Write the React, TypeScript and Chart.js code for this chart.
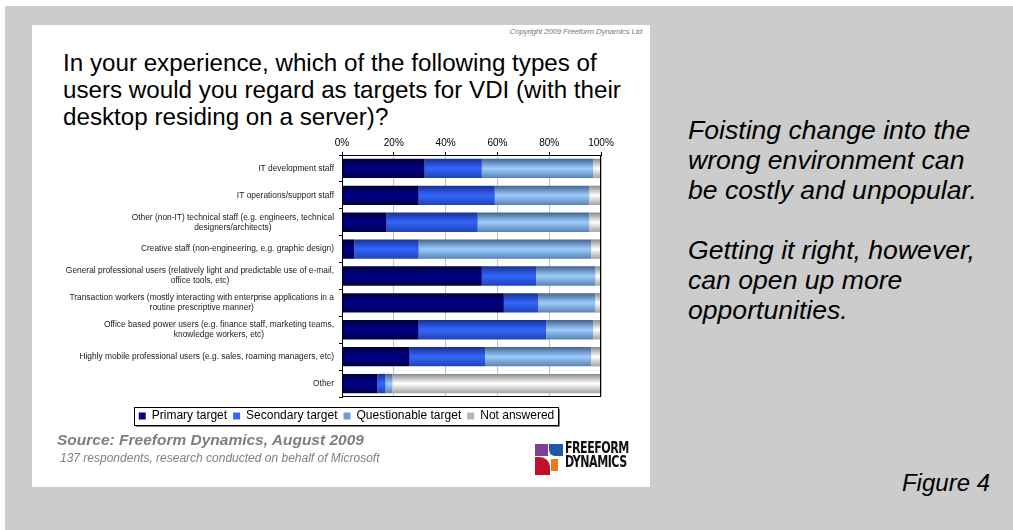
import React, { useEffect, useRef } from 'react';
import { Chart, registerables } from 'chart.js';

Chart.register(...registerables);

const FONT = '"Liberation Sans", Arial, Helvetica, sans-serif';

const categories: string[][] = [
  ['IT development staff'],
  ['IT operations/support staff'],
  ['Other (non-IT) technical staff (e.g. engineers, technical', 'designers/architects)'],
  ['Creative staff (non-engineering, e.g. graphic design)'],
  ['General professional users (relatively light and predictable use of e-mail,', 'office tools, etc)'],
  ['Transaction workers (mostly interacting with enterprise applications in a', 'routine prescriptive manner)'],
  ['Office based power users (e.g. finance staff, marketing teams,', 'knowledge workers, etc)'],
  ['Highly mobile professional users (e.g. sales, roaming managers, etc)'],
  ['Other'],
];

const primaryTarget = [31.9, 29.6, 17.2, 4.8, 54.0, 62.5, 29.6, 26.1, 13.7];
const secondaryTarget = [22.1, 29.4, 35.2, 24.8, 20.9, 13.2, 49.2, 29.1, 3.1];
const questionableTarget = [43.0, 36.5, 43.1, 66.6, 22.9, 22.1, 18.2, 41.0, 2.7];
const notAnswered = [3.0, 4.5, 4.5, 3.8, 2.2, 2.2, 3.0, 3.8, 80.5];

const seriesNames = ['Primary target', 'Secondary target', 'Questionable target', 'Not answered'];
const xTickValues = [0, 20, 40, 60, 80, 100];
const xTickLabels = ['0%', '20%', '40%', '60%', '80%', '100%'];

const gradientStops: string[][] = [
  ['#00003c', '#000088', '#00004c'],
  ['#173190', '#3366ff', '#1f44b4'],
  ['#44628c', '#9ccdff', '#5a82b0'],
  ['#8a8a8a', '#ffffff', '#a2a2a2'],
];
const legendColors = ['#000080', '#3366ff', '#6f9fd8', '#b4b4b4'];

const BAR_PCT = 0.72;

function makeBg(stops: string[]) {
  return (ctx: any) => {
    const chart = ctx.chart;
    const ys = chart.scales && chart.scales.y;
    if (!ys || ctx.type !== 'data') return stops[1];
    const c = ys.getPixelForValue(ctx.dataIndex);
    const band = (ys.bottom - ys.top) / categories.length;
    const h = band * BAR_PCT;
    if (!isFinite(c) || !isFinite(h) || h <= 0) return stops[1];
    const g = chart.ctx.createLinearGradient(0, c - h / 2, 0, c + h / 2);
    g.addColorStop(0, stops[0]);
    g.addColorStop(0.5, stops[1]);
    g.addColorStop(1, stops[2]);
    return g;
  };
}

const customPlugin = {
  id: 'customDecor',
  afterDraw(chart: any) {
    const { ctx, chartArea, scales } = chart;
    ctx.save();
    // plot frame
    ctx.strokeStyle = '#000';
    ctx.lineWidth = 1;
    ctx.strokeRect(
      Math.round(chartArea.left) + 0.5,
      Math.round(chartArea.top) + 0.5,
      Math.round(chartArea.right) - Math.round(chartArea.left) - 1,
      Math.round(chartArea.bottom) - Math.round(chartArea.top) - 1
    );
    // category labels: block right-aligned, lines centred
    ctx.font = '8.4px ' + FONT;
    ctx.fillStyle = '#1a1a1a';
    ctx.textBaseline = 'middle';
    ctx.textAlign = 'center';
    const rightX = chartArea.left - 8;
    categories.forEach((lines, i) => {
      const cy = scales.y.getPixelForValue(i);
      const w = Math.max(...lines.map((l) => ctx.measureText(l).width));
      const cx = rightX - w / 2;
      const lh = 10;
      lines.forEach((l, j) => ctx.fillText(l, cx, cy + (j - (lines.length - 1) / 2) * lh));
    });
    // legend frame
    const hb = chart.legend && chart.legend.legendHitBoxes;
    if (hb && hb.length) {
      const l = Math.round(Math.min(...hb.map((h: any) => h.left)) - 5);
      const r = Math.round(Math.max(...hb.map((h: any) => h.left + h.width)) + 4);
      const t = Math.round(hb[0].top - 3);
      const hh = 18;
      ctx.strokeStyle = '#808080';
      ctx.beginPath();
      ctx.moveTo(r + 1.5, t + 2);
      ctx.lineTo(r + 1.5, t + hh + 1.5);
      ctx.lineTo(l + 2, t + hh + 1.5);
      ctx.stroke();
      ctx.strokeStyle = '#000';
      ctx.strokeRect(l + 0.5, t + 0.5, r - l, hh);
    }
    ctx.restore();
  },
};

function ChartView() {
  const ref = useRef<HTMLCanvasElement | null>(null);
  useEffect(() => {
    if (!ref.current) return;
    const seriesData = [primaryTarget, secondaryTarget, questionableTarget, notAnswered];
    const chart = new Chart(ref.current, {
      type: 'bar',
      data: {
        labels: categories.map((c) => c.join(' ')),
        datasets: seriesData.map((d, i) => ({
          label: seriesNames[i],
          data: d,
          backgroundColor: makeBg(gradientStops[i]),
          borderWidth: 0,
          barPercentage: BAR_PCT,
          categoryPercentage: 1,
        })),
      },
      options: {
        indexAxis: 'y',
        animation: false,
        responsive: false,
        maintainAspectRatio: false,
        layout: { padding: { left: 60, right: 49, top: 0, bottom: 3 } },
        scales: {
          x: {
            position: 'top',
            stacked: true,
            min: 0,
            max: 100,
            afterBuildTicks: (s: any) => {
              s.ticks = xTickValues.map((v) => ({ value: v }));
            },
            ticks: {
              callback: (_v: any, i: number) => xTickLabels[i],
              font: { size: 10, family: FONT },
              color: '#000',
              padding: 3,
              maxRotation: 0,
            },
            grid: { color: '#c0c0c0', tickColor: '#000', tickLength: 3 },
            border: { color: '#000' },
            afterFit: (s: any) => {
              s.height = 30;
            },
          },
          y: {
            stacked: true,
            ticks: { display: false },
            grid: { drawOnChartArea: false, tickLength: 3, color: '#000', offset: true },
            border: { color: '#000' },
            afterFit: (s: any) => {
              s.width = 250;
            },
          },
        },
        plugins: {
          tooltip: { enabled: false },
          legend: {
            position: 'bottom',
            title: { display: true, text: '', font: { size: 5 }, padding: { top: 1, bottom: 0 } },
            labels: {
              boxWidth: 7,
              boxHeight: 7,
              padding: 6,
              color: '#000',
              font: { size: 12, family: FONT },
              generateLabels: () =>
                seriesNames.map((name, i) => ({
                  text: name,
                  fillStyle: legendColors[i],
                  strokeStyle: legendColors[i],
                  lineWidth: 0,
                  hidden: false,
                  datasetIndex: i,
                  fontColor: '#000',
                })),
            },
          },
        },
      } as any,
      plugins: [customPlugin],
    });
    return () => chart.destroy();
  }, []);
  return <canvas ref={ref} width={618} height={310} style={{ display: 'block', width: 618, height: 310 }} />;
}

export default function App() {
  return (
    <div
      style={{
        position: 'fixed',
        left: 0,
        top: 0,
        width: 1013,
        height: 530,
        background: '#fff',
        overflow: 'hidden',
        fontFamily: FONT,
      }}
    >
      <div style={{ position: 'absolute', left: 5, top: 6, right: 0, bottom: 0, background: '#cccccc' }} />
      <div style={{ position: 'absolute', left: 32, top: 25, width: 618, height: 462, background: '#fff' }}>
        <div
          style={{
            position: 'absolute',
            right: 8,
            top: 2,
            fontSize: 8,
            lineHeight: '10px',
            fontStyle: 'italic',
            color: '#7a7a7a',
            letterSpacing: -0.2,
            whiteSpace: 'nowrap',
          }}
        >
          Copyright 2009 Freeform Dynamics Ltd
        </div>
        <div
          style={{
            position: 'absolute',
            left: 31,
            top: 24,
            fontSize: 24.2,
            lineHeight: '27px',
            color: '#000',
            whiteSpace: 'nowrap',
          }}
        >
          In your experience, which of the following types of
          <br />
          users would you regard as targets for VDI (with their
          <br />
          desktop residing on a server)?
        </div>
        <div style={{ position: 'absolute', left: 0, top: 100, width: 618, height: 310 }}>
          <ChartView />
        </div>
        <div
          style={{
            position: 'absolute',
            left: 25,
            top: 406,
            fontSize: 15.5,
            lineHeight: '18px',
            fontStyle: 'italic',
            fontWeight: 'bold',
            color: '#7f7f7f',
            whiteSpace: 'nowrap',
          }}
        >
          Source: Freeform Dynamics, August 2009
        </div>
        <div
          style={{
            position: 'absolute',
            left: 28,
            top: 426,
            fontSize: 12,
            lineHeight: '14px',
            fontStyle: 'italic',
            color: '#7f7f7f',
            whiteSpace: 'nowrap',
          }}
        >
          137 respondents, research conducted on behalf of Microsoft
        </div>
        <div style={{ position: 'absolute', left: 503, top: 419, width: 13, height: 12, background: '#7d3f98' }} />
        <div
          style={{
            position: 'absolute',
            left: 517,
            top: 419,
            width: 14,
            height: 12,
            background: '#1f5aa6',
            borderBottomLeftRadius: 6,
          }}
        />
        <div
          style={{
            position: 'absolute',
            left: 503,
            top: 432,
            width: 15,
            height: 18,
            background: '#c0102a',
            borderTopRightRadius: 10,
          }}
        />
        <div style={{ position: 'absolute', left: 519, top: 434, width: 7, height: 12, background: '#f07a1a' }} />
        <div
          style={{
            position: 'absolute',
            left: 533,
            top: 417,
            fontFamily: '"DejaVu Sans Condensed", "DejaVu Sans", Arial, sans-serif',
            fontWeight: 'bold',
            fontSize: 15,
            lineHeight: '13.5px',
            color: '#111',
            letterSpacing: -0.6,
            whiteSpace: 'nowrap',
            transform: 'scaleX(0.82)',
            transformOrigin: 'left top',
          }}
        >
          FREEFORM
          <br />
          DYNAMICS
        </div>
      </div>
      <div
        style={{
          position: 'absolute',
          left: 688,
          top: 115,
          fontSize: 26.6,
          lineHeight: '30px',
          fontStyle: 'italic',
          color: '#000',
          whiteSpace: 'nowrap',
        }}
      >
        Foisting change into the
        <br />
        wrong environment can
        <br />
        be costly and unpopular.
        <br />
        <br />
        Getting it right, however,
        <br />
        can open up more
        <br />
        opportunities.
      </div>
      <div
        style={{
          position: 'absolute',
          right: 23,
          top: 468,
          fontSize: 24,
          lineHeight: '30px',
          fontStyle: 'italic',
          color: '#000',
          whiteSpace: 'nowrap',
        }}
      >
        Figure 4
      </div>
    </div>
  );
}
